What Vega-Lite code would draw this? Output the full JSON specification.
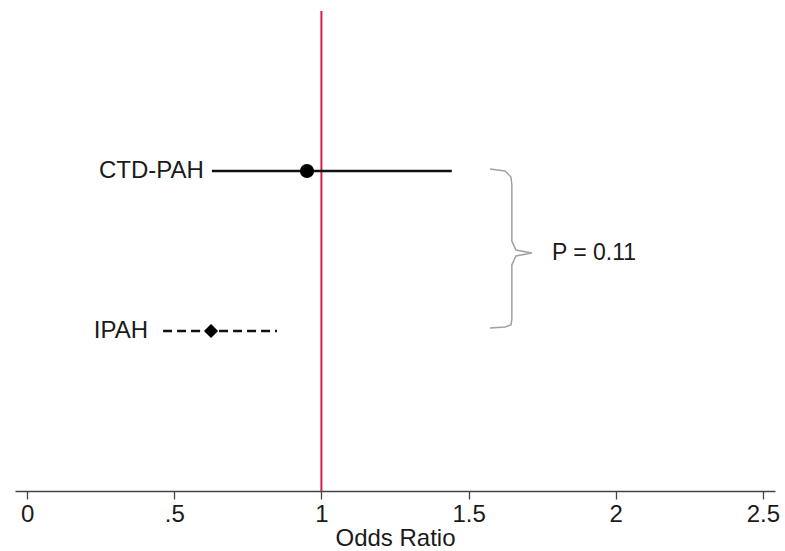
{
  "$schema": "https://vega.github.io/schema/vega-lite/v6.json",
  "width": 760,
  "height": 480,
  "padding": {"left": 15, "top": 10, "right": 10, "bottom": 2},
  "background": "white",
  "config": {
    "view": {"stroke": null},
    "font": "Liberation Sans",
    "axis": {"grid": false}
  },
  "datasets": {
    "ci": [
      {"group": "CTD-PAH", "or": 0.951, "lo": 0.628, "hi": 1.443, "y": 4},
      {"group": "IPAH", "or": 0.625, "lo": 0.462, "hi": 0.849, "y": 2}
    ],
    "brace": [
      {"i": 1, "x": 1.573, "y": 4.025},
      {"i": 2, "x": 1.624, "y": 4.0},
      {"i": 3, "x": 1.644, "y": 3.925},
      {"i": 4, "x": 1.647, "y": 3.825},
      {"i": 5, "x": 1.647, "y": 3.125},
      {"i": 6, "x": 1.661, "y": 3.0125},
      {"i": 7, "x": 1.715, "y": 2.975},
      {"i": 8, "x": 1.661, "y": 2.9375},
      {"i": 9, "x": 1.647, "y": 2.825},
      {"i": 10, "x": 1.647, "y": 2.15},
      {"i": 11, "x": 1.644, "y": 2.075},
      {"i": 12, "x": 1.624, "y": 2.05},
      {"i": 13, "x": 1.573, "y": 2.0375}
    ],
    "pval": [{"x": 1.783, "y": 2.975, "label": "P = 0.11"}],
    "ref": [{"x": 1, "y": 0, "y2": 6}]
  },
  "encoding": {
    "x": {
      "type": "quantitative",
      "scale": {"domain": [-0.041, 2.541], "nice": false, "zero": false},
      "axis": {
        "values": [0, 0.5, 1, 1.5, 2, 2.5],
        "labelExpr": "datum.value == 0.5 ? '.5' : format(datum.value, '~g')",
        "title": "Odds Ratio",
        "titleFontWeight": "normal",
        "titleFontSize": 24,
        "titleColor": "#1a1a1a",
        "titlePadding": 0,
        "labelFontSize": 24,
        "labelColor": "#1a1a1a",
        "labelPadding": 3,
        "tickSize": 8,
        "tickColor": "#444444",
        "tickWidth": 1.3,
        "domainColor": "#444444",
        "domainWidth": 1.5
      }
    },
    "y": {
      "type": "quantitative",
      "scale": {"domain": [0, 6], "nice": false, "zero": false},
      "axis": null
    }
  },
  "layer": [
    {
      "data": {"name": "ref"},
      "mark": {"type": "rule", "color": "#e0194a", "strokeWidth": 2},
      "encoding": {
        "x": {"field": "x", "type": "quantitative"},
        "y": {"field": "y", "type": "quantitative"},
        "y2": {"field": "y2"}
      }
    },
    {
      "data": {"name": "ci"},
      "transform": [{"filter": "datum.group == 'CTD-PAH'"}],
      "mark": {"type": "rule", "color": "#111111", "strokeWidth": 2.5},
      "encoding": {
        "x": {"field": "lo", "type": "quantitative"},
        "x2": {"field": "hi"},
        "y": {"field": "y", "type": "quantitative"}
      }
    },
    {
      "data": {"name": "ci"},
      "transform": [{"filter": "datum.group == 'IPAH'"}],
      "mark": {"type": "rule", "color": "#111111", "strokeWidth": 2.5, "strokeDash": [9, 5]},
      "encoding": {
        "x": {"field": "lo", "type": "quantitative"},
        "x2": {"field": "hi"},
        "y": {"field": "y", "type": "quantitative"}
      }
    },
    {
      "data": {"name": "ci"},
      "transform": [{"filter": "datum.group == 'CTD-PAH'"}],
      "mark": {"type": "point", "shape": "circle", "filled": true, "color": "#000000", "size": 200, "opacity": 1},
      "encoding": {
        "x": {"field": "or", "type": "quantitative"},
        "y": {"field": "y", "type": "quantitative"}
      }
    },
    {
      "data": {"name": "ci"},
      "transform": [{"filter": "datum.group == 'IPAH'"}],
      "mark": {"type": "point", "shape": "diamond", "filled": true, "color": "#000000", "size": 200, "opacity": 1},
      "encoding": {
        "x": {"field": "or", "type": "quantitative"},
        "y": {"field": "y", "type": "quantitative"}
      }
    },
    {
      "data": {"name": "ci"},
      "transform": [{"filter": "datum.group == 'CTD-PAH'"}],
      "mark": {"type": "text", "align": "right", "baseline": "middle", "dx": -8, "fontSize": 24, "color": "#1a1a1a"},
      "encoding": {
        "x": {"field": "lo", "type": "quantitative"},
        "y": {"field": "y", "type": "quantitative"},
        "text": {"field": "group"}
      }
    },
    {
      "data": {"name": "ci"},
      "transform": [{"filter": "datum.group == 'IPAH'"}],
      "mark": {"type": "text", "align": "right", "baseline": "middle", "dx": -15, "fontSize": 24, "color": "#1a1a1a"},
      "encoding": {
        "x": {"field": "lo", "type": "quantitative"},
        "y": {"field": "y", "type": "quantitative"},
        "text": {"field": "group"}
      }
    },
    {
      "data": {"name": "brace"},
      "mark": {"type": "line", "color": "#a0a0a0", "strokeWidth": 1.5, "interpolate": "linear"},
      "encoding": {
        "x": {"field": "x", "type": "quantitative"},
        "y": {"field": "y", "type": "quantitative"},
        "order": {"field": "i", "type": "quantitative"}
      }
    },
    {
      "data": {"name": "pval"},
      "mark": {"type": "text", "align": "left", "baseline": "middle", "fontSize": 23, "color": "#1a1a1a"},
      "encoding": {
        "x": {"field": "x", "type": "quantitative"},
        "y": {"field": "y", "type": "quantitative"},
        "text": {"field": "label"}
      }
    }
  ]
}
